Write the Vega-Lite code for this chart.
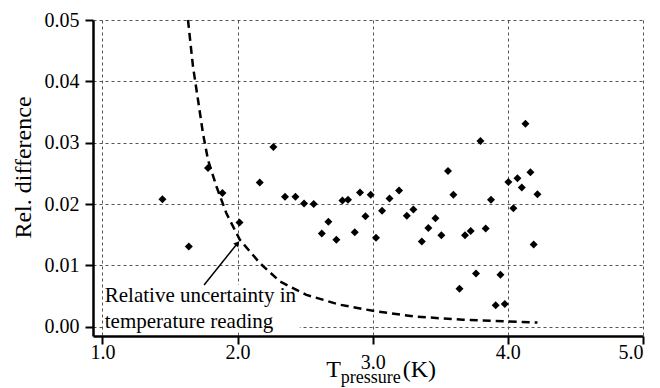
{
  "$schema": "https://vega.github.io/schema/vega-lite/v6.json",
  "width": 550,
  "height": 316,
  "autosize": {"type": "none"},
  "padding": {"left": 93, "top": 20, "right": 17, "bottom": 52},
  "background": "white",
  "config": {
    "view": {"stroke": null},
    "font": "Liberation Serif",
    "axis": {
      "domainColor": "black", "domainWidth": 2.5,
      "tickColor": "black", "tickWidth": 2, "tickSize": 8,
      "labelFont": "Liberation Serif", "labelFontSize": 20, "labelColor": "black",
      "titleFont": "Liberation Serif", "titleFontWeight": "normal", "titleColor": "black",
      "gridColor": "#555", "gridDash": [3, 3], "gridWidth": 1, "gridOpacity": 1
    }
  },
  "datasets": {
    "points": [
      {"T": 1.444, "d": 0.0208}, {"T": 1.639, "d": 0.0131}, {"T": 1.781, "d": 0.0259},
      {"T": 1.888, "d": 0.0218}, {"T": 2.014, "d": 0.0170}, {"T": 2.164, "d": 0.0235},
      {"T": 2.265, "d": 0.0293}, {"T": 2.351, "d": 0.0212}, {"T": 2.428, "d": 0.0212},
      {"T": 2.492, "d": 0.0201}, {"T": 2.563, "d": 0.0200}, {"T": 2.623, "d": 0.0152},
      {"T": 2.672, "d": 0.0171}, {"T": 2.731, "d": 0.0142}, {"T": 2.776, "d": 0.0206},
      {"T": 2.817, "d": 0.0207}, {"T": 2.867, "d": 0.0154}, {"T": 2.906, "d": 0.0219},
      {"T": 2.946, "d": 0.0180}, {"T": 2.985, "d": 0.0215}, {"T": 3.024, "d": 0.0145},
      {"T": 3.069, "d": 0.0189}, {"T": 3.124, "d": 0.0209}, {"T": 3.195, "d": 0.0222},
      {"T": 3.252, "d": 0.0181}, {"T": 3.301, "d": 0.0191}, {"T": 3.363, "d": 0.0139},
      {"T": 3.412, "d": 0.0161}, {"T": 3.464, "d": 0.0177}, {"T": 3.508, "d": 0.0149},
      {"T": 3.557, "d": 0.0254}, {"T": 3.597, "d": 0.0215}, {"T": 3.642, "d": 0.0062},
      {"T": 3.683, "d": 0.0149}, {"T": 3.725, "d": 0.0156}, {"T": 3.764, "d": 0.0087},
      {"T": 3.797, "d": 0.0303}, {"T": 3.836, "d": 0.0160}, {"T": 3.875, "d": 0.0207},
      {"T": 3.910, "d": 0.0035}, {"T": 3.945, "d": 0.0085}, {"T": 3.977, "d": 0.0037},
      {"T": 4.004, "d": 0.0236}, {"T": 4.041, "d": 0.0193}, {"T": 4.071, "d": 0.0242},
      {"T": 4.103, "d": 0.0227}, {"T": 4.130, "d": 0.0331}, {"T": 4.167, "d": 0.0252},
      {"T": 4.191, "d": 0.0134}, {"T": 4.219, "d": 0.0216}
    ],
    "curve": [
      {"T": 1.633, "u": 0.0500}, {"T": 1.670, "u": 0.0424}, {"T": 1.707, "u": 0.0370},
      {"T": 1.744, "u": 0.0315}, {"T": 1.781, "u": 0.0272}, {"T": 1.843, "u": 0.0229},
      {"T": 1.917, "u": 0.0185}, {"T": 2.016, "u": 0.0142}, {"T": 2.164, "u": 0.0104},
      {"T": 2.312, "u": 0.0074}, {"T": 2.509, "u": 0.0052}, {"T": 2.756, "u": 0.0036},
      {"T": 3.002, "u": 0.0026}, {"T": 3.298, "u": 0.0017}, {"T": 3.668, "u": 0.00114},
      {"T": 4.001, "u": 0.00086}, {"T": 4.219, "u": 0.0007}
    ]
  },
  "layer": [
    {
      "data": {"values": [{}]},
      "mark": {"type": "rect", "fill": "white"},
      "encoding": {
        "x": {"datum": 1.012, "type": "quantitative",
          "scale": {"domain": [0.93, 5.0], "nice": false, "zero": false},
          "axis": {"values": [1, 2, 3, 4, 5], "format": ".1f", "title": null, "grid": true,
            "labelPadding": {"condition": {"test": "datum.value == 3", "value": 8}, "value": -2}}},
        "x2": {"datum": 2.46},
        "y": {"datum": -0.0009, "type": "quantitative",
          "scale": {"domain": [-0.0015, 0.05], "nice": false, "zero": false},
          "axis": {"values": [0, 0.01, 0.02, 0.03, 0.04, 0.05], "format": ".2f", "grid": true,
            "labelPadding": 6, "title": "Rel. difference", "titleFontSize": 24,
            "titleBaseline": "alphabetic", "titleX": -63, "titleY": 147}},
        "y2": {"datum": 0.0068}
      }
    },
    {
      "data": {"name": "curve"},
      "mark": {"type": "line", "color": "black", "strokeWidth": 2.5, "strokeDash": [8, 5]},
      "encoding": {
        "x": {"field": "T", "type": "quantitative"},
        "y": {"field": "u", "type": "quantitative"}
      }
    },
    {
      "data": {"name": "points"},
      "mark": {"type": "point", "shape": "diamond", "filled": true, "color": "black", "size": 64, "opacity": 1},
      "encoding": {
        "x": {"field": "T", "type": "quantitative"},
        "y": {"field": "d", "type": "quantitative"}
      }
    },
    {
      "data": {"values": [{}]},
      "mark": {"type": "rule", "color": "black", "strokeWidth": 1.5},
      "encoding": {
        "x": {"datum": 1.752}, "y": {"datum": 0.0068},
        "x2": {"datum": 1.995}, "y2": {"datum": 0.0135}
      }
    },
    {
      "data": {"values": [{}]},
      "mark": {"type": "point", "shape": "triangle-up", "filled": true, "color": "black", "size": 40, "angle": 38, "opacity": 1},
      "encoding": {
        "x": {"datum": 1.999}, "y": {"datum": 0.0136}
      }
    },
    {
      "data": {"values": [{}]},
      "mark": {"type": "text", "text": ["Relative uncertainty in", "temperature reading"], "align": "left", "baseline": "alphabetic",
        "fontSize": 21, "lineHeight": 26, "font": "Liberation Serif", "color": "black"},
      "encoding": {"x": {"datum": 1.017}, "y": {"datum": 0.00396}}
    },
    {
      "data": {"values": [{}]},
      "mark": {"type": "text", "text": "T", "align": "right", "baseline": "alphabetic", "fontSize": 24, "font": "Liberation Serif", "color": "black"},
      "encoding": {"x": {"datum": 2.764}, "y": {"datum": -0.00814}}
    },
    {
      "data": {"values": [{}]},
      "mark": {"type": "text", "text": "pressure", "align": "left", "baseline": "alphabetic", "fontSize": 18, "font": "Liberation Serif", "color": "black"},
      "encoding": {"x": {"datum": 2.764}, "y": {"datum": -0.00918}}
    },
    {
      "data": {"values": [{}]},
      "mark": {"type": "text", "text": "(K)", "align": "left", "baseline": "alphabetic", "fontSize": 24, "font": "Liberation Serif", "color": "black"},
      "encoding": {"x": {"datum": 3.222}, "y": {"datum": -0.00814}}
    }
  ]
}
